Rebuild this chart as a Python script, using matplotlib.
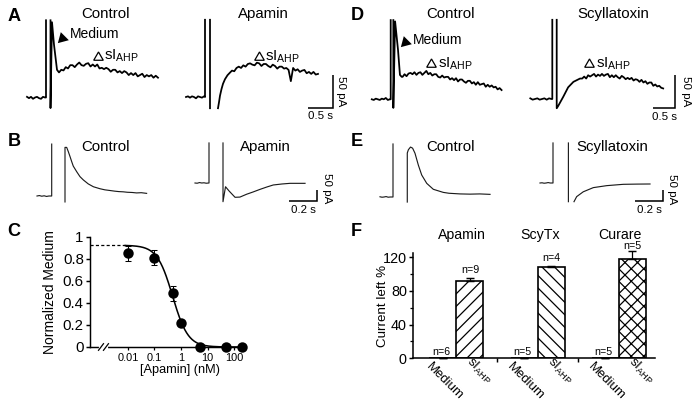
import numpy as np
import matplotlib
matplotlib.use("Agg")
import matplotlib.pyplot as plt
from matplotlib.ticker import NullLocator, FixedLocator

plt.rcParams['font.family'] = ['Liberation Sans', 'DejaVu Sans']
plt.rcParams['mathtext.fontset'] = 'custom'
plt.rcParams['mathtext.rm'] = 'Liberation Sans'
plt.rcParams['mathtext.it'] = 'Liberation Sans:italic'
plt.rcParams['mathtext.bf'] = 'Liberation Sans:bold'
plt.rcParams['hatch.linewidth'] = 0.6

#------------------------------------------------------------------------------
#                   data (time in s, current in pA)
#------------------------------------------------------------------------------
# A: control
a_ctl_base = [1, -1, 1, -2, 0, 1, -1, -2, 1, 0]
a_ctl_spike = 117
a_ctl_fast_t = [0.09, 0.09, 0.12, 0.16, 0.22]
a_ctl_fast_i = [117, -16, 114, 80, 42]
a_ctl_tail = [38, 42, 41, 46, 44, 49, 49, 46, 50, 53, 49, 48, 51, 52, 47,
              50, 47, 50, 44, 45, 43, 45, 43, 39, 42, 42, 38, 40, 37, 40,
              38, 34, 37, 34, 37, 32, 34, 36, 31, 34, 32, 34, 30, 33, 30]
# A: apamin
a_apa_base = [0, 1, -1, 1, 0, -2, 1, 0, -1, 1]
a_apa_spike = 117
a_apa_fast_t = [0.1, 0.1, np.nan, 0.26, 0.28, 0.30, 0.33, 0.36, 0.40, 0.45, 0.50]
a_apa_fast_i = [117, -17, np.nan, -17, -8, 2, 12, 20, 27, 33, 37]
a_apa_tail = [40, 39, 44, 46, 44, 48, 46, 50, 51, 49, 48, 52, 51, 47, 50,
              50, 47, 45, 49, 47, 43, 46, 46, 43, 44, 41, 24, 44, 40, 42,
              38, 40, 41, 36, 38, 35, 38, 34, 35]
# D: control
d_ctl_base = [0, -1, 1, 0, -1, 1, 0, 2, -1, 0]
d_ctl_spike = 120
d_ctl_fast_t = [0.06, 0.06, 0.10, 0.166, 0.21, 0.25]
d_ctl_fast_i = [120, -13, 118, 75, 37, 34]
d_ctl_tail = [34, 38, 35, 39, 40, 38, 41, 37, 40, 41, 37, 40, 43, 38, 40,
              36, 38, 38, 34, 33, 36, 33, 34, 34, 30, 32, 29, 32, 27, 30,
              30, 27, 25, 28, 28, 24, 26, 22, 26, 22, 23, 24, 19, 22, 19,
              21, 18, 19, 15, 17, 14]
# D: scyllatoxin
d_scy_base = [1, -1, 0, 1, -1, 0, 1, -1, 1, 0]
d_scy_spike = 120
d_scy_fast_t = [0.1, 0.1, 0.13, 0.25, 0.36, 0.48, 0.63]
d_scy_fast_i = [120, -14, -11, 3.5, 17.7, 26, 31]
d_scy_tail = [31, 34, 31, 36, 34, 36, 38, 34, 37, 35, 38, 35, 37, 38, 33,
              36, 33, 36, 33, 31, 35, 33, 30, 32, 30, 32, 28, 30, 29, 26,
              29, 25, 27, 23, 25, 25, 20, 22, 19, 20, 17, 16]
# B: control / apamin
b_ctl_base = [0, 2, -1, 1, -2, 0]
b_ctl_spike = 236
b_ctl_fast_t = [0.095, 0.095, 0.107, 0.119, 0.131, 0.143, 0.154, 0.179, 0.202,
                0.226, 0.261, 0.298, 0.345, 0.38, 0.416, 0.45, 0.48, 0.511,
                0.54, 0.575, 0.606, 0.64, 0.678]
b_ctl_fast_i = [-27, 221, 221, 201, 179, 156, 136, 110, 88, 73, 55, 42, 33,
                28, 25, 22, 20, 19, 17, 16, 14, 15, 12]
b_apa_base = [0, -1, 2, 0, 1, -1]
b_apa_spike = 182
b_apa_fast_t = [0.1, 0.1, 0.118, 0.143, 0.186, 0.221, 0.269, 0.314, 0.364,
                0.414, 0.459, 0.521, 0.579, 0.686]
b_apa_fast_i = [182, -85, -17, -36, -65, -64, -51, -41, -29, -18, -9, -4.5,
                -1.5, -1.5]
# E: control / scyllatoxin
e_ctl_base = [1, -1, 0, 2, -1, 0]
e_ctl_spike = 241
e_ctl_fast_t = [0.102, 0.102, 0.11, 0.125, 0.14, 0.157, 0.181, 0.205, 0.241,
                0.288, 0.359, 0.40, 0.479, 0.55, 0.62, 0.693]
e_ctl_fast_i = [-23, 200, 215, 227, 222, 199, 145, 100, 62, 35, 21, 17, 14,
                13, 14, 12]
e_scy_base = [0, 1, -1, 0, 2, 0]
e_scy_spike = 182
e_scy_fast_t = [0.11, 0.11, np.nan, 0.15, 0.169, 0.216, 0.288, 0.384, 0.502,
                0.6, 0.693]
e_scy_fast_i = [182, -85, np.nan, -85, -62, -40, -21, -12, -6, -5, -4.5]

# C: dose response
apa_conc = [0.01, 0.1, 0.5, 1, 5, 50, 200]
apa_norm = [0.852, 0.81, 0.488, 0.22, 0.0, 0.0, 0.0]
apa_err = [0.07, 0.068, 0.068, 0.0, 0.0, 0.0, 0.0]
hill_top, hill_ic50, hill_n = 0.925, 0.48, 1.5
c_ticks = [0.01, 0.1, 1, 10, 100]
c_ticklabels = ['0.01', '0.1', '1', '10', '100']

# F: current left
f_groups = ['Apamin', 'ScyTx', 'Curare']
f_cats = ['Medium', 'sI$_{\\mathrm{AHP}}$'] * 3
f_vals = [0.6, 92, 0.6, 108, 0.6, 118]
f_errs = [0, 3.5, 0, 2, 0, 9]
f_n = ['n=6', 'n=9', 'n=5', 'n=4', 'n=5', 'n=5']

#------------------------------------------------------------------------------
#                   figure
#------------------------------------------------------------------------------
W, H, DPI = 698, 407, 150
fig = plt.figure(figsize=(W / DPI, H / DPI), dpi=DPI)
SI = r'sI$_{\mathrm{AHP}}$'


def fx(x):
    return x / W


def fy(y):
    return 1 - y / H


def txt(x, y, s, size, **kw):
    kw.setdefault('ha', 'center')
    kw.setdefault('va', 'center')
    fig.text(fx(x), fy(y), s, fontsize=size, **kw)


def trace_axes(x0, y0, px_s, px_pa):
    # axes over the whole figure, with t=0 at pixel x0 and I=0 at pixel y0
    ax = fig.add_axes([0, 0, 1, 1])
    ax.set_xlim(-x0 / px_s, (W - x0) / px_s)
    ax.set_ylim(-(H - y0) / px_pa, y0 / px_pa)
    ax.axis('off')
    return ax


def draw_trace(ax, base, t_base, spike, fast_t, fast_i, tail=None, t_tail=None,
               **kw):
    tb = np.linspace(t_base, -0.02, len(base))
    ax.plot(np.r_[tb, 0, 0], np.r_[base, 0, spike], **kw)
    t = list(fast_t)
    i = list(fast_i)
    if tail:
        t += list(np.linspace(t_tail[0], t_tail[1], len(tail)))
        i += list(tail)
    ax.plot(t, i, **kw)


def scale_bar(ax, t, i, dt, di):
    ax.plot([t - dt, t, t], [i, i, i + di], color='k', lw=0.75,
            solid_joinstyle='miter', solid_capstyle='butt')


thick = dict(color='k', lw=0.85)
thin = dict(color='#1a1a1a', lw=0.55)

# ---- A ----
ax = trace_axes(46, 97.5, 50, 0.66)
draw_trace(ax, a_ctl_base, -0.38, a_ctl_spike, a_ctl_fast_t, a_ctl_fast_i,
           a_ctl_tail, (0.26, 2.24), **thick)
ax = trace_axes(205, 97, 50, 0.66)
draw_trace(ax, a_apa_base, -0.38, a_apa_spike, a_apa_fast_t, a_apa_fast_i,
           a_apa_tail, (0.54, 2.26), **thick)
scale_bar(ax, 2.566, -16.2, 0.5, 50)

# ---- D ----
ax = trace_axes(390.7, 99.3, 44, 0.66)
draw_trace(ax, d_ctl_base, -0.43, d_ctl_spike, d_ctl_fast_t, d_ctl_fast_i,
           d_ctl_tail, (0.27, 2.52), **thick)
ax = trace_axes(552.3, 99, 44, 0.66)
draw_trace(ax, d_scy_base, -0.5, d_scy_spike, d_scy_fast_t, d_scy_fast_i,
           d_scy_tail, (0.68, 2.52), **thick)
scale_bar(ax, 2.79, -13.2, 0.5, 50)

# ---- B ----
ax = trace_axes(51.7, 196, 140, 0.22)
draw_trace(ax, b_ctl_base, -0.105, b_ctl_spike, b_ctl_fast_t, b_ctl_fast_i, **thin)
ax = trace_axes(209, 183, 140, 0.22)
draw_trace(ax, b_apa_base, -0.1, b_apa_spike, b_apa_fast_t, b_apa_fast_i, **thin)
scale_bar(ax, 0.771, -81.8, 0.2, 50)

# ---- E ----
ax = trace_axes(393, 197, 140, 0.22)
draw_trace(ax, e_ctl_base, -0.093, e_ctl_spike, e_ctl_fast_t, e_ctl_fast_i, **thin)
ax = trace_axes(553, 183, 140, 0.22)
draw_trace(ax, e_scy_base, -0.093, e_scy_spike, e_scy_fast_t, e_scy_fast_i, **thin)
scale_bar(ax, 0.788, -81.8, 0.2, 50)

# ---- titles, annotations, scale labels ----
for x, y, s in [(14, 16.5, 'A'), (14, 142, 'B'), (14, 231, 'C'),
                (357, 16, 'D'), (357, 141, 'E'), (356, 231, 'F')]:
    txt(x, y, s, 8.7, fontweight='bold')
for x, y, s in [(106, 14, 'Control'), (263, 14, 'Apamin'),
                (450, 14, 'Control'), (613, 14, 'Scyllatoxin'),
                (105, 147, 'Control'), (265, 147, 'Apamin'),
                (450, 147, 'Control'), (612, 147, 'Scyllatoxin')]:
    txt(x, y, s, 7.2)

ov = fig.add_axes([0, 0, 1, 1])
ov.set_xlim(0, W)
ov.set_ylim(H, 0)
ov.axis('off')
for x, y in [(61.5, 38), (405, 42)]:
    ov.plot(x, y, marker=(3, 0, 135), ms=6.3, color='k', mew=0)
for x, y in [(97.5, 56.5), (259, 57), (431, 64), (589, 64)]:
    ov.plot(x, y, marker=(3, 0, 120), ms=5.3, mfc='white', mec='k', mew=0.6)
txt(70, 34.5, 'Medium', 6.7, ha='left')
txt(413, 39.5, 'Medium', 6.7, ha='left')
for x, y in [(104, 60), (265, 61), (438, 68), (596, 68)]:
    txt(x, y, SI, 7.2, ha='left', va='baseline')

for x, y, s in [(341, 91, '50 pA'), (686, 91, '50 pA'),
                (327, 188, '50 pA'), (672, 189, '50 pA')]:
    txt(x, y, s, 5.5, rotation=-90)
for x, y, s in [(320.5, 116, '0.5 s'), (664, 117, '0.5 s'),
                (303, 210, '0.2 s'), (649, 210, '0.2 s')]:
    txt(x, y, s, 5.5)

#------------------------------------------------------------------------------
#                   C: dose response
#------------------------------------------------------------------------------
axC = fig.add_axes([fx(90), fy(347), 155 / W, 110 / H])
axC.patch.set_alpha(0)
axC.set_xscale('log')
x_lo, x_hi = 10 ** -3.42, 10 ** 2.4
axC.set_xlim(x_lo, x_hi)
axC.set_ylim(0, 1)
xx = np.logspace(np.log10(0.008), np.log10(x_hi), 200)
axC.plot(xx, hill_top / (1 + (xx / hill_ic50) ** hill_n), color='k', lw=0.75)
axC.plot([x_lo, 0.008], [hill_top, hill_top], color='k', lw=0.6, dashes=(2.5, 1.8))
axC.errorbar(apa_conc, apa_norm, yerr=apa_err, fmt='none', ecolor='k',
             elinewidth=0.5, capsize=1.5, capthick=0.5)
axC.plot(apa_conc, apa_norm, 'o', color='k', ms=4, clip_on=False, zorder=4)
for s in ['top', 'right']:
    axC.spines[s].set_visible(False)
for s in ['left', 'bottom']:
    axC.spines[s].set_linewidth(0.7)
axC.set_xticks(c_ticks)
axC.set_xticklabels(c_ticklabels)
axC.xaxis.set_minor_locator(NullLocator())
axC.set_yticks([0, 0.2, 0.4, 0.6, 0.8, 1])
axC.set_yticklabels(['0', '0.2', '0.4', '0.6', '0.8', '1'])
axC.tick_params(axis='x', length=1.5, width=0.6, labelsize=5.3, pad=1.5)
axC.tick_params(axis='y', length=2, width=0.7, labelsize=7.2, pad=1)
axC.set_ylabel('Normalized Medium', fontsize=6.7)
axC.yaxis.set_label_coords((57 - 90) / 155, 0.5)
axC.set_xlabel('[Apamin] (nM)', fontsize=6.1)
axC.xaxis.set_label_coords((180 - 90) / 155, (347 - 364.5) / 110)
# axis break
axC.plot([0.068, 0.106], [0, 0], transform=axC.transAxes, color='white',
         lw=2, clip_on=False, zorder=5)
for x0 in [0.071, 0.103]:
    axC.plot([x0 - 0.016, x0 + 0.016], [-0.03, 0.03], transform=axC.transAxes,
             color='k', lw=0.6, clip_on=False, zorder=6)

#------------------------------------------------------------------------------
#                   F: current left
#------------------------------------------------------------------------------
axF = fig.add_axes([fx(413), fy(358.3), 242 / W, 105.3 / H])
axF.patch.set_alpha(0)
f_pos = [0, 1, 3, 4, 6, 7]
f_hatch = ['', '////', '', '\\\\\\\\', '', 'xxxx']
bars = axF.bar(f_pos, f_vals, width=1.0, color='white', edgecolor='k', lw=0.8)
for b, h in zip(bars, f_hatch):
    b.set_hatch(h)
eb = axF.errorbar(f_pos, f_vals, yerr=[np.zeros(6), f_errs], fmt='none',
                  ecolor='k', elinewidth=0.6, capsize=2, capthick=0.7)
for art in eb.lines[1] + eb.lines[2]:
    art.set_clip_on(False)
axF.set_xlim(-1.11, 7.85)
axF.set_ylim(0, 125)
for s in ['top', 'right']:
    axF.spines[s].set_visible(False)
for s in ['left', 'bottom']:
    axF.spines[s].set_linewidth(0.75)
axF.set_yticks([0, 40, 80, 120])
axF.yaxis.set_minor_locator(FixedLocator([20, 60, 100]))
axF.set_xticks([2, 5])
axF.set_xticklabels(['', ''])
axF.tick_params(axis='both', which='major', length=2, width=0.7, labelsize=6.9, pad=1)
axF.tick_params(axis='y', which='minor', length=1.3, width=0.6)
axF.set_ylabel('Current left %', fontsize=6.4)
axF.yaxis.set_label_coords((389 - 413) / 242, 0.5)
for k, (p, c, v, e, n) in enumerate(zip(f_pos, f_cats, f_vals, f_errs, f_n)):
    if c == 'Medium':
        axF.text(p + 0.07, -28, c, rotation=-45, ha='center', va='center', fontsize=6.3)
        axF.text(p - 0.05, 7.5, n, ha='center', va='center', fontsize=5.1)
    else:
        axF.text(p + 0.33, -15, c, rotation=-45, ha='center', va='center', fontsize=6.3)
        gap = 6.5 if k == len(f_pos) - 1 else 9.5
        axF.text(p, v + e + gap, n, ha='center', va='center', fontsize=5.1)
for x, s in zip([462, 540, 620], f_groups):
    txt(x, 235, s, 6.8)

fig.savefig('out.png', dpi=DPI, facecolor='white')
